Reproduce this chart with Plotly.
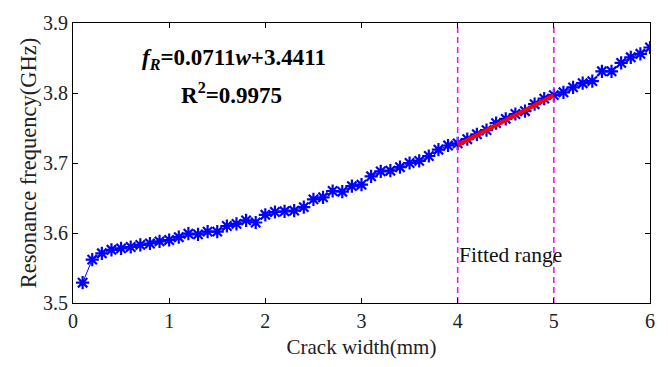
import plotly.graph_objects as go

crack_width = [round(0.1 * i, 1) for i in range(1, 61)]
resonance_freq = [
    3.529, 3.562, 3.571, 3.576, 3.578, 3.580, 3.583, 3.585, 3.588, 3.590,
    3.594, 3.599, 3.598, 3.602, 3.602, 3.610, 3.613, 3.618, 3.615, 3.626,
    3.630, 3.631, 3.632, 3.637, 3.648, 3.651, 3.660, 3.659, 3.667, 3.669,
    3.681, 3.688, 3.689, 3.694, 3.700, 3.703, 3.710, 3.719, 3.725, 3.728,
    3.734, 3.741, 3.747, 3.757, 3.763, 3.770, 3.774, 3.784, 3.792, 3.797,
    3.801, 3.808, 3.814, 3.817, 3.831, 3.831, 3.843, 3.851, 3.856, 3.865,
]
fit_slope = 0.0711
fit_intercept = 3.4411
fit_range = [4.0, 5.0]
fit_values = [fit_slope * w + fit_intercept for w in fit_range]
x_ticks = [0, 1, 2, 3, 4, 5, 6]
y_ticks = [3.5, 3.6, 3.7, 3.8, 3.9]

FONT = "Liberation Serif, Times New Roman, serif"

fig = go.Figure()
fig.add_trace(go.Scatter(
    x=crack_width, y=resonance_freq, mode="lines+markers",
    line=dict(color="#0000ff", width=1),
    marker=dict(symbol="asterisk-open", size=11, color="#0000ff",
                line=dict(color="#0000ff", width=2.2)),
    showlegend=False,
))
fig.add_trace(go.Scatter(
    x=fit_range, y=fit_values, mode="lines",
    line=dict(color="#ff0000", width=4), showlegend=False,
))
for xv in fit_range:
    fig.add_trace(go.Scatter(
        x=[xv, xv], y=[y_ticks[0], y_ticks[-1]], mode="lines",
        line=dict(color="#ff00ff", width=1.5, dash="6px,4px"), showlegend=False,
    ))

fig.add_annotation(x=1.67, y=3.848, xref="x", yref="y", showarrow=False,
                   text="<b><i>f</i><sub><i>R</i></sub>=0.0711<i>w</i>+3.4411</b>",
                   font=dict(family=FONT, size=23, color="black"))
fig.add_annotation(x=1.65, y=3.800, xref="x", yref="y", showarrow=False,
                   text="<b>R<sup>2</sup>=0.9975</b>",
                   font=dict(family=FONT, size=23, color="black"))
fig.add_annotation(x=3.99, y=3.569, xref="x", yref="y", showarrow=False,
                   xanchor="left", text="Fitted range",
                   font=dict(family=FONT, size=21.5, color="#111"))

axis_common = dict(
    showline=True, linecolor="black", linewidth=1.2, mirror="ticks",
    ticks="inside", ticklen=5, tickcolor="black", showgrid=False,
    zeroline=False, tickfont=dict(family=FONT, size=20, color="#222"),
)
fig.update_xaxes(range=[0, 6], tickvals=x_ticks, **axis_common,
                 title=dict(text="Crack width(mm)", standoff=8,
                            font=dict(family=FONT, size=21, color="#222")))
fig.update_yaxes(range=[3.5, 3.9], tickvals=y_ticks, tickformat=".1f",
                 **axis_common,
                 title=dict(text="Resonance frequency(GHz)", standoff=0,
                            font=dict(family=FONT, size=22.5, color="#222")))
fig.update_layout(
    width=668, height=367, margin=dict(l=73, r=18, t=20, b=61),
    paper_bgcolor="white", plot_bgcolor="white",
)
fig.write_html("out.html")
